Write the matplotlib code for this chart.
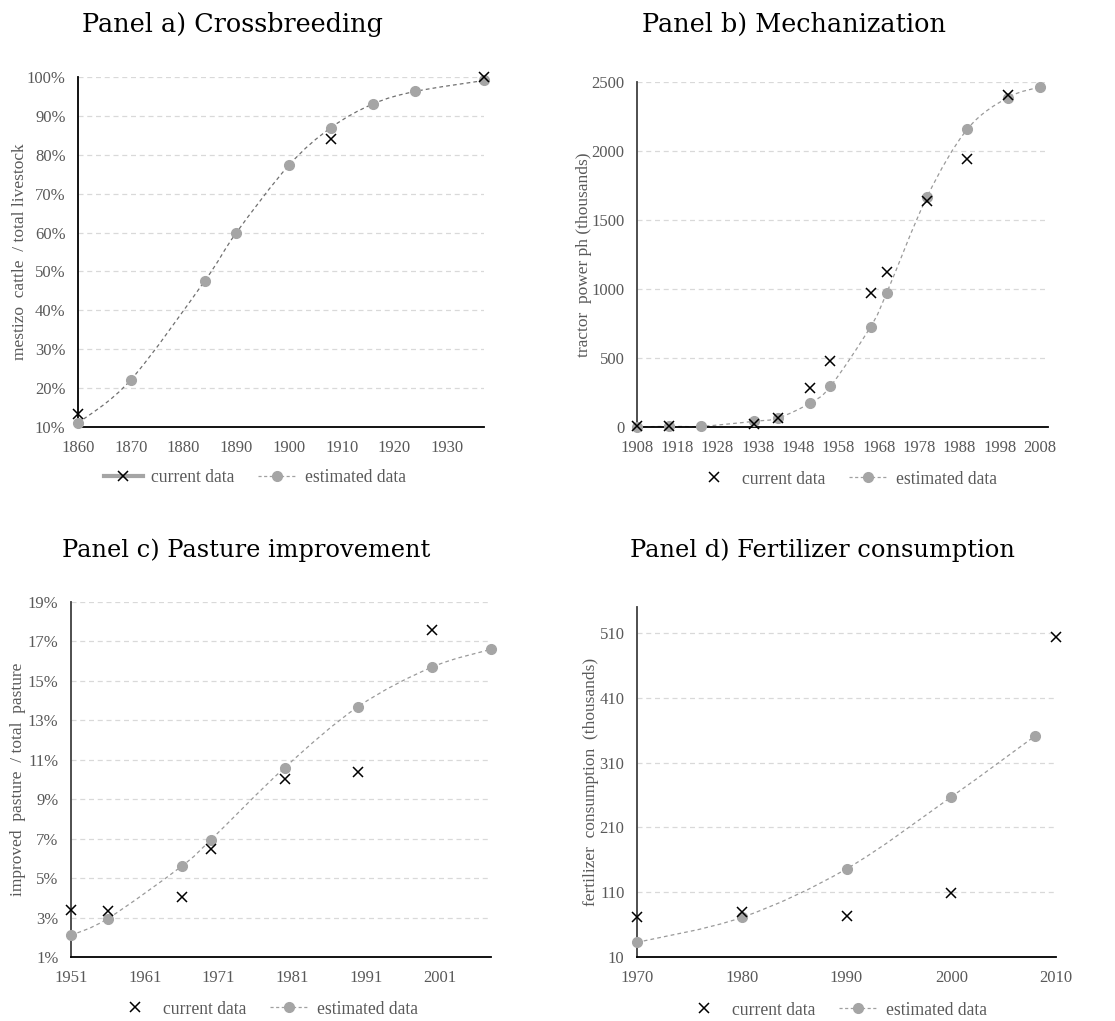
import matplotlib
matplotlib.use('Agg')
import matplotlib.pyplot as plt
from matplotlib.path import Path
from matplotlib.patches import PathPatch
from matplotlib.lines import Line2D
import matplotlib.ticker as mticker
import numpy as np

# panel a) crossbreeding
a_est_year = [1860, 1870, 1884, 1890, 1900, 1908, 1916, 1924, 1937]
a_est_val = [11.0, 22.1, 47.5, 59.9, 77.3, 87.0, 93.1, 96.3, 99.1]
a_cur_year = [1860, 1908, 1937]
a_cur_val = [13.3, 84.0, 100.0]

# panel b) mechanization
b_est_year = [1908, 1916, 1924, 1937, 1943, 1951, 1956, 1966, 1970, 1980, 1990, 2000, 2008]
b_est_val = [0, 5, 5, 41, 65, 174, 294, 728, 974, 1669, 2159, 2387, 2464]
b_cur_year = [1908, 1916, 1937, 1943, 1951, 1956, 1966, 1970, 1980, 1990, 2000]
b_cur_val = [5, 5, 24, 65, 282, 480, 974, 1126, 1635, 1943, 2405]

# panel c) pasture improvement
c_est_year = [1951, 1956, 1966, 1970, 1980, 1990, 2000, 2008]
c_est_val = [2.1, 2.95, 5.6, 6.95, 10.6, 13.7, 15.7, 16.6]
c_cur_year = [1951, 1956, 1966, 1970, 1980, 1990, 2000]
c_cur_val = [3.40, 3.34, 4.05, 6.50, 10.03, 10.36, 17.6]

# panel d) fertilizer consumption
d_est_year = [1970, 1980, 1990, 2000, 2008]
d_est_val = [32.6, 71, 146, 257, 351]
d_cur_year = [1970, 1980, 1990, 2000, 2010]
d_cur_val = [71.5, 79.7, 73.6, 108.5, 503]

GREY_TXT = '#595959'
MARK = '#A5A5A5'
SERIF = ['Liberation Serif', 'DejaVu Serif']
W, H = 1115.0, 1021.0


def smooth_path(xs, ys):
    # excel-like smoothed line: cubic bezier through the points
    pts = np.column_stack([xs, ys]).astype(float)
    n = len(pts)
    verts = [pts[0]]
    codes = [Path.MOVETO]
    for i in range(n - 1):
        p0 = pts[i - 1] if i > 0 else pts[i]
        p1 = pts[i]
        p2 = pts[i + 1]
        p3 = pts[i + 2] if i + 2 < n else pts[i + 1]
        c1 = p1 + (p2 - p0) / 6.0
        c2 = p2 - (p3 - p1) / 6.0
        verts += [c1, c2, p2]
        codes += [Path.CURVE4] * 3
    return Path(verts, codes)


def rect(l, t, r, b):
    return [l / W, 1 - b / H, (r - l) / W, (b - t) / H]


def panel(box, est_x, est_y, cur_x, cur_y, xlim, xticks, ylim, yticks, ylabel, label_x,
          pct=False, line_col='#9a9a9a', left_col='#404040'):
    ax = fig.add_axes(rect(*box))
    patch = PathPatch(smooth_path(est_x, est_y), facecolor='none', edgecolor=line_col,
                      linestyle=(0, (3, 2.5)), linewidth=0.9, zorder=2)
    ax.add_patch(patch)
    ax.plot(est_x, est_y, linestyle='none', marker='o', markersize=7, color=MARK,
            zorder=3, clip_on=False)
    ax.plot(cur_x, cur_y, linestyle='none', marker='x', markersize=6.5, mew=1.1,
            color='black', zorder=4, clip_on=False)
    ax.set_xlim(xlim)
    ax.set_ylim(ylim)
    ax.set_xticks(xticks)
    ax.set_yticks(yticks)
    if pct:
        ax.yaxis.set_major_formatter(mticker.FuncFormatter(lambda v, p: '%d%%' % round(v)))
    ax.grid(True, axis='y', color='#d9d9d9', linestyle=(0, (4, 3)), linewidth=0.9)
    ax.set_axisbelow(True)
    for s in ['top', 'right']:
        ax.spines[s].set_visible(False)
    ax.spines['bottom'].set_color('black')
    ax.spines['bottom'].set_linewidth(1.3)
    ax.spines['left'].set_color(left_col)
    ax.spines['left'].set_linewidth(1.3)
    ax.tick_params(length=0, labelsize=12, labelcolor=GREY_TXT)
    ax.tick_params(axis='x', pad=9)
    ax.tick_params(axis='y', pad=9)
    for lab in ax.get_xticklabels() + ax.get_yticklabels():
        lab.set_family(SERIF)
    ax.set_ylabel(ylabel, fontsize=12.5, color=GREY_TXT, family=SERIF, va='center')
    # place the label centre at a fixed pixel column
    ax.yaxis.set_label_coords((label_x - box[0]) / (box[2] - box[0]), 0.5)
    return ax


fig = plt.figure(figsize=(11.15, 10.21), dpi=100)

ax_a = panel((78, 77, 484, 427), a_est_year, a_est_val, a_cur_year, a_cur_val,
             (1860, 1937), list(range(1860, 1931, 10)), (10, 100), list(range(10, 101, 10)),
             'mestizo  cattle  / total livestock', 20, pct=True, line_col='#707070',
             left_col='black')
ax_b = panel((637, 82, 1048, 427), b_est_year, b_est_val, b_cur_year, b_cur_val,
             (1908, 2010), list(range(1908, 2009, 10)), (0, 2500), list(range(0, 2501, 500)),
             'tractor  power ph (thousands)', 584)
ax_c = panel((71, 602, 491, 957), c_est_year, c_est_val, c_cur_year, c_cur_val,
             (1951, 2008), list(range(1951, 2002, 10)), (1, 19), list(range(1, 20, 2)),
             'improved  pasture  / total  pasture', 18, pct=True)
ax_d = panel((637, 607, 1056, 957), d_est_year, d_est_val, d_cur_year, d_cur_val,
             (1970, 2010), list(range(1970, 2011, 10)), (10, 550), list(range(10, 511, 100)),
             'fertilizer  consumption  (thousands)', 591)

# titles
titles = [(82, 32, 'Panel a) Crossbreeding', 18.4), (642, 32, 'Panel b) Mechanization', 18.4),
          (62, 557, 'Panel c) Pasture improvement', 17.4),
          (630, 557, 'Panel d) Fertilizer consumption', 17.4)]
for x, y, t, fs in titles:
    fig.text(x / W, 1 - y / H, t, fontsize=fs, family='DejaVu Serif', va='baseline', ha='left')

# legends
est_handle = Line2D([], [], color='#a0a0a0', linestyle=(0, (2.5, 2)), linewidth=0.9,
                    marker='o', markersize=7, markerfacecolor=MARK, markeredgecolor=MARK)
cur_handle_a = Line2D([], [], color=MARK, linewidth=3, marker='x', markersize=6.5,
                      mew=1.1, markeredgecolor='black')
cur_handle = Line2D([], [], color='black', linestyle='none', marker='x', markersize=6.5, mew=1.1)

for h, cx, cy in [(cur_handle_a, 255, 478), (cur_handle, 846, 479),
                  (cur_handle, 267, 1009), (cur_handle, 836, 1010)]:
    leg = fig.legend(handles=[h, est_handle], labels=['current data', 'estimated data'],
                     loc='center', bbox_to_anchor=(cx / W, 1 - cy / H), ncol=2,
                     frameon=False, prop={'family': SERIF, 'size': 12.7},
                     handlelength=2.2, columnspacing=1.3, handletextpad=0.5)
    for t in leg.get_texts():
        t.set_color(GREY_TXT)

fig.savefig('out.png', dpi=100)
